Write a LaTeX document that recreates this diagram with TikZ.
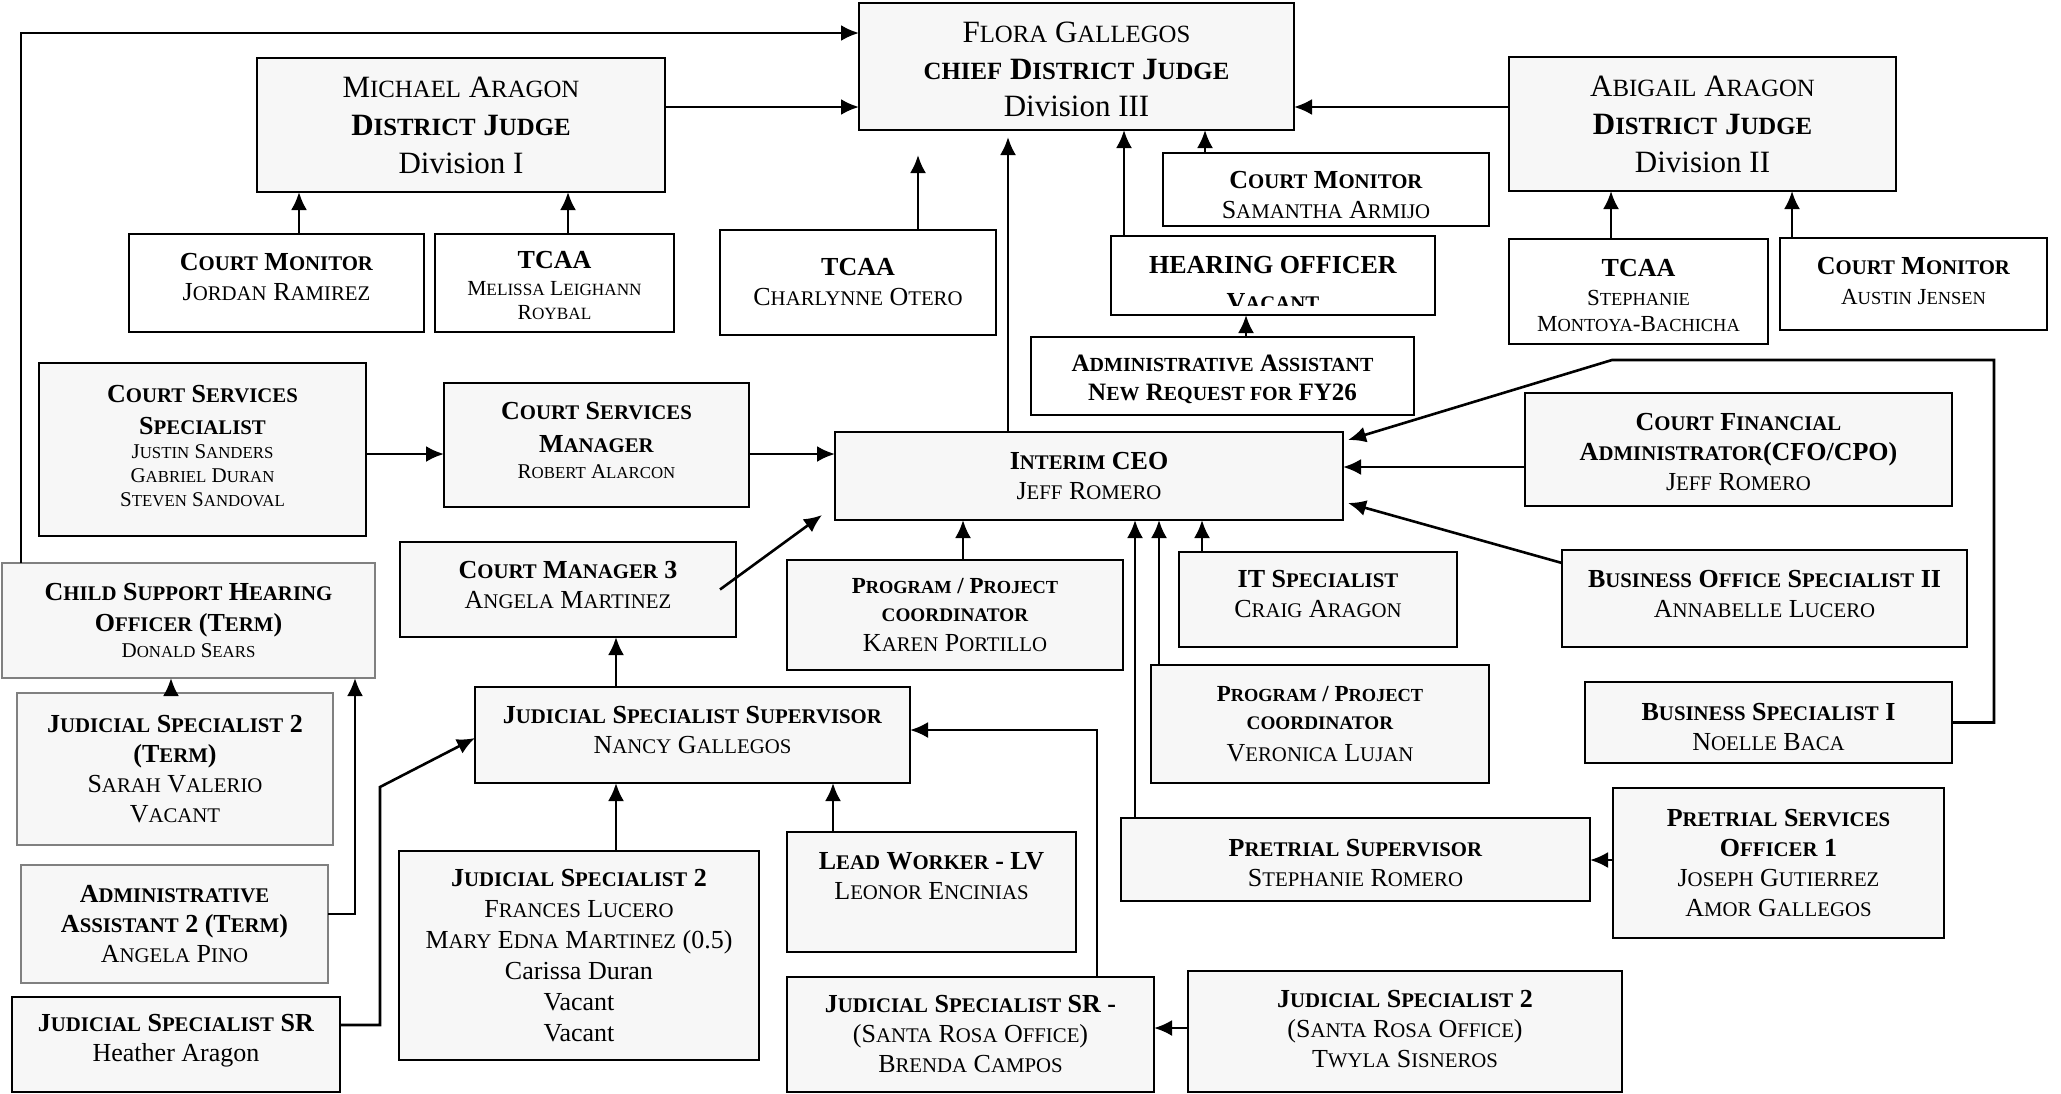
\documentclass[tikz,border=0pt]{standalone}
\usepackage{fontspec}
\setmainfont{Liberation Serif}
\newfontfamily\scfont[Scale=0.8]{Liberation Serif}
\usetikzlibrary{arrows.meta}
\newcommand\SC[1]{{\scfont #1}}
\newcommand\fs[2]{\fontsize{#1}{#2}\selectfont}
\newcommand\bx[9]{%
 \node[#2, minimum width=#5pt, minimum height=#6pt] (#1) at (#3,#4) {};
 \node[txt,#8] (#1t) at (#3,{#4+(#7)}) {#9};}
\tikzset{
 box/.style={draw, line width=2.6pt, fill=black!3, inner sep=0pt, outer sep=0pt},
 wbox/.style={box, fill=white},
 gbox/.style={box, draw=black!50, line width=2pt},
 txt/.style={align=center, inner sep=0pt, font=\fs{26}{30}},
 arr/.style={line width=2.6pt, -{Latex[length=18pt,width=16pt]}},
}
\begin{document}
\begin{tikzpicture}[x=1pt,y=-1pt]
\useasboundingbox (0,0) rectangle (2061,1093);
\fill[white] (0,0) rectangle (2061,1093);

\bx{flora}{box}{1076.5}{66.5}{435}{127}{3}{font=\fs{31}{37}}{F\SC{LORA} G\SC{ALLEGOS}\\ \textbf{\SC{CHIEF} D\SC{ISTRICT} J\SC{UDGE}}\\ Division III}
\bx{michael}{box}{461}{125}{408}{134}{0}{font=\fs{31}{38}}{M\SC{ICHAEL} A\SC{RAGON}\\ \textbf{D\SC{ISTRICT} J\SC{UDGE}}\\ Division I}
\bx{abigail}{box}{1702.5}{124}{387}{134}{0}{font=\fs{31}{38}}{A\SC{BIGAIL} A\SC{RAGON}\\ \textbf{D\SC{ISTRICT} J\SC{UDGE}}\\ Division II}
\bx{jordan}{wbox}{276.5}{283}{295}{98}{-6}{}{\textbf{C\SC{OURT} M\SC{ONITOR}}\\ J\SC{ORDAN} R\SC{AMIREZ}}
\bx{melissa}{wbox}{554.5}{283}{239}{98}{2}{}{\textbf{TCAA}\\[-3pt] {\fs{21.5}{24}M\SC{ELISSA} L\SC{EIGHANN}}\\[-6pt] {\fs{21.5}{24}R\SC{OYBAL}}}
\bx{charlynne}{wbox}{858}{282.5}{276}{105}{0}{}{\textbf{TCAA}\\ C\SC{HARLYNNE} O\SC{TERO}}
\bx{samantha}{wbox}{1326}{189.5}{326}{73}{6}{}{\textbf{C\SC{OURT} M\SC{ONITOR}}\\ S\SC{AMANTHA} A\SC{RMIJO}}
\node[wbox, minimum width=324pt, minimum height=79pt] (hearing) at (1273,275.5) {};
\node[txt] (hearingt) at (1273,265.5) {\textbf{HEARING OFFICER}};
\begin{scope}
\clip (1111,236) rectangle (1435,305);
\node[anchor=base, inner sep=0pt, font=\fs{26}{30}] (hearingv) at (1273,310) {\textbf{V\SC{ACANT}}};
\end{scope}
\bx{adminasst}{wbox}{1222.5}{376}{383}{78}{3}{font=\fs{25}{29}}{\textbf{A\SC{DMINISTRATIVE} A\SC{SSISTANT}}\\ \textbf{N\SC{EW} R\SC{EQUEST FOR} FY26}}
\bx{stephanie}{wbox}{1638.5}{291.5}{259}{105}{4}{}{\textbf{TCAA}\\[-1pt] {\fs{23}{26}S\SC{TEPHANIE}}\\[-4pt] {\fs{23}{26}M\SC{ONTOYA}-B\SC{ACHICHA}}}
\bx{austin}{wbox}{1913.5}{284}{267}{92}{-3}{}{\textbf{C\SC{OURT} M\SC{ONITOR}}\\ {\fs{23}{26}A\SC{USTIN} J\SC{ENSEN}}}
\bx{css}{box}{202.5}{449.5}{327}{173}{-3}{}{\textbf{C\SC{OURT} S\SC{ERVICES}}\\[2pt] \textbf{S\SC{PECIALIST}}\\[-6pt] {\fs{21}{24}J\SC{USTIN} S\SC{ANDERS}}\\[-6pt] {\fs{21}{24}G\SC{ABRIEL} D\SC{URAN}}\\[-6pt] {\fs{21}{24}S\SC{TEVEN} S\SC{ANDOVAL}}}
\bx{csm}{box}{596.5}{445}{305}{124}{-5}{}{\textbf{C\SC{OURT} S\SC{ERVICES}}\\[3pt] \textbf{M\SC{ANAGER}}\\[-4pt] {\fs{21}{24}R\SC{OBERT} A\SC{LARCON}}}
\bx{ceo}{box}{1089}{476}{508}{88}{0}{}{\textbf{I\SC{NTERIM} CEO}\\ J\SC{EFF} R\SC{OMERO}}
\bx{cfo}{box}{1738.5}{449.5}{427}{113}{3}{}{\textbf{C\SC{OURT} F\SC{INANCIAL}}\\ \textbf{A\SC{DMINISTRATOR}(CFO/CPO)}\\ J\SC{EFF} R\SC{OMERO}}
\bx{cm3}{box}{568}{589.5}{336}{95}{-5}{}{\textbf{C\SC{OURT} M\SC{ANAGER} 3}\\ A\SC{NGELA} M\SC{ARTINEZ}}
\bx{karen}{box}{955}{615}{336}{110}{0}{}{{\fs{23}{26}\textbf{P\SC{ROGRAM} / P\SC{ROJECT}}}\\[-2pt] {\fs{24}{27}\textbf{\SC{COORDINATOR}}}\\ K\SC{AREN} P\SC{ORTILLO}}
\bx{it}{box}{1318}{599.5}{278}{95}{-5}{}{\textbf{IT S\SC{PECIALIST}}\\ C\SC{RAIG} A\SC{RAGON}}
\bx{bos2}{box}{1764.5}{598.5}{405}{97}{-5}{}{\textbf{B\SC{USINESS} O\SC{FFICE} S\SC{PECIALIST} II}\\ A\SC{NNABELLE} L\SC{UCERO}}
\bx{child}{gbox}{188.5}{620.5}{373}{115}{0}{}{\textbf{C\SC{HILD} S\SC{UPPORT} H\SC{EARING}}\\[1pt] \textbf{O\SC{FFICER} (T\SC{ERM})}\\[-4pt] {\fs{21}{24}D\SC{ONALD} S\SC{EARS}}}
\bx{veronica}{box}{1320}{724}{338}{118}{0}{}{{\fs{23}{26}\textbf{P\SC{ROGRAM} / P\SC{ROJECT}}}\\[-2pt] {\fs{24}{27}\textbf{\SC{COORDINATOR}}}\\[2pt] V\SC{ERONICA} L\SC{UJAN}}
\bx{bs1}{box}{1768.5}{722.5}{367}{81}{4}{}{\textbf{B\SC{USINESS} S\SC{PECIALIST} I}\\ N\SC{OELLE} B\SC{ACA}}
\bx{js2term}{gbox}{175}{769}{316}{152}{0}{}{\textbf{J\SC{UDICIAL} S\SC{PECIALIST} 2}\\ \textbf{(T\SC{ERM})}\\ S\SC{ARAH} V\SC{ALERIO}\\ V\SC{ACANT}}
\bx{jss}{box}{692.5}{735}{435}{96}{-5}{}{\textbf{J\SC{UDICIAL} S\SC{PECIALIST} S\SC{UPERVISOR}}\\ N\SC{ANCY} G\SC{ALLEGOS}}
\bx{pretsup}{box}{1355.5}{859.5}{469}{83}{4}{}{\textbf{P\SC{RETRIAL} S\SC{UPERVISOR}}\\ S\SC{TEPHANIE} R\SC{OMERO}}
\bx{pso1}{box}{1778.5}{863}{331}{150}{0}{}{\textbf{P\SC{RETRIAL} S\SC{ERVICES}}\\ \textbf{O\SC{FFICER} 1}\\ J\SC{OSEPH} G\SC{UTIERREZ}\\ A\SC{MOR} G\SC{ALLEGOS}}
\bx{admin2}{gbox}{174.5}{924}{307}{118}{0}{}{\textbf{A\SC{DMINISTRATIVE}}\\ \textbf{A\SC{SSISTANT} 2 (T\SC{ERM})}\\ A\SC{NGELA} P\SC{INO}}
\bx{js2fr}{box}{579}{955.5}{360}{209}{0}{font=\fs{26}{31}}{\textbf{J\SC{UDICIAL} S\SC{PECIALIST} 2}\\ F\SC{RANCES} L\SC{UCERO}\\ M\SC{ARY} E\SC{DNA} M\SC{ARTINEZ} (0.5)\\ Carissa Duran\\ Vacant\\ Vacant}
\bx{lead}{box}{931.5}{892}{289}{120}{-16}{}{\textbf{L\SC{EAD} W\SC{ORKER} - LV}\\ L\SC{EONOR} E\SC{NCINIAS}}
\bx{heather}{box}{176}{1044.5}{328}{95}{-4}{}{\textbf{J\SC{UDICIAL} S\SC{PECIALIST} SR}\\ Heather Aragon}
\bx{jssr}{box}{970.5}{1034.5}{367}{115}{0}{}{\textbf{J\SC{UDICIAL} S\SC{PECIALIST} SR -}\\ (S\SC{ANTA} R\SC{OSA} O\SC{FFICE})\\ B\SC{RENDA} C\SC{AMPOS}}
\bx{js2sr}{box}{1405}{1031.5}{434}{121}{-2}{}{\textbf{J\SC{UDICIAL} S\SC{PECIALIST} 2}\\ (S\SC{ANTA} R\SC{OSA} O\SC{FFICE})\\ T\SC{WYLA} S\SC{ISNEROS}}

% connectors
\coordinate (a1) at ([xshift=19pt]child.north west);
\coordinate (a2) at ([yshift=33.5pt]flora.west);
\draw[arr] (a1) |- (a2);
\coordinate (b1) at ([yshift=18pt]michael.east);
\draw[arr] (b1) -- (b1 -| flora.west);
\coordinate (c1) at ([yshift=17pt]abigail.west);
\draw[arr] (c1) -- (c1 -| flora.east);
\coordinate (d1) at ([xshift=22.5pt]jordan.north);
\draw[arr] (d1) -- (d1 |- michael.south);
\coordinate (e1) at ([xshift=13.5pt]melissa.north);
\draw[arr] (e1) -- (e1 |- michael.south);
\coordinate (f1) at ([xshift=60pt]charlynne.north);
\draw[arr, shorten >=25pt] (f1) -- (f1 |- flora.south);
\coordinate (g1) at ([xshift=-81pt]ceo.north);
\draw[arr, shorten >=7pt] (g1) -- (g1 |- flora.south);
\coordinate (h1) at ([xshift=-149pt]hearing.north);
\draw[arr] (h1) -- (h1 |- flora.south);
\coordinate (i1) at ([xshift=-121pt]samantha.north);
\draw[arr] (i1) -- (i1 |- flora.south);
\coordinate (j1) at ([xshift=23.5pt]adminasst.north);
\draw[arr] (j1) -- (j1 |- hearing.south);
\coordinate (k1) at ([xshift=-27.5pt]stephanie.north);
\draw[arr] (k1) -- (k1 |- abigail.south);
\coordinate (l1) at ([xshift=-121.5pt]austin.north);
\draw[arr] (l1) -- (l1 |- abigail.south);
\coordinate (m1) at ([yshift=-4.5pt]css.east);
\draw[arr] (m1) -- (m1 -| csm.west);
\coordinate (n1) at ([yshift=-9pt]csm.east);
\draw[arr] (n1) -- (n1 -| ceo.west);
\coordinate (o1) at ([xshift=-16pt]cm3.east);
\coordinate (o2) at ([xshift=-13pt,yshift=5pt]ceo.south west);
\draw[arr] (o1) -- (o2);
\coordinate (p1) at ([xshift=8pt]karen.north);
\draw[arr] (p1) -- (p1 |- ceo.south);
\coordinate (q1) at ([xshift=-220.5pt]pretsup.north);
\draw[arr] (q1) -- (q1 |- ceo.south);
\coordinate (r1) at ([xshift=-161pt]veronica.north);
\draw[arr] (r1) -- (r1 |- ceo.south);
\coordinate (s1) at ([xshift=-116pt]it.north);
\draw[arr] (s1) -- (s1 |- ceo.south);
\coordinate (t1) at ([xshift=42pt]bs1.east);
\coordinate (t0) at ([yshift=33pt]cfo.north);
\coordinate (t3) at ([xshift=-126.5pt]t0);
\coordinate (t4) at ([xshift=5pt,yshift=36pt]ceo.east);
\draw[arr] (bs1.east) -- (t1) |- (t3) -- (t4);
\coordinate (u1) at ([yshift=-17.5pt]cfo.west);
\draw[arr] (u1) -- (u1 -| ceo.east);
\coordinate (v1) at ([yshift=35.5pt]bos2.west);
\coordinate (v2) at ([xshift=5pt,yshift=-27pt]ceo.east);
\draw[arr] (v1) -- (v2);
\coordinate (w1) at ([xshift=-4pt]js2term.north);
\draw[arr] (w1) -- (w1 |- child.south);
\coordinate (x1) at ([yshift=10pt]admin2.east);
\coordinate (x2) at ([xshift=166.5pt]child.south);
\draw[arr] (x1) -| (x2);
\coordinate (y1) at ([yshift=19.5pt]heather.east);
\coordinate (y2) at ([xshift=40pt]y1);
\coordinate (y3a) at (y2 |- jss.south);
\coordinate (y3) at ([yshift=-4pt]y3a);
\coordinate (y4) at ([yshift=-3pt]jss.west);
\draw[arr] (y1) -- (y2) -- (y3) -- (y4);
\coordinate (z1) at ([xshift=-76.5pt]jss.north);
\draw[arr] (z1) -- (z1 |- cm3.south);
\coordinate (aa1) at ([xshift=37pt]js2fr.north);
\draw[arr] (aa1) -- (aa1 |- jss.south);
\coordinate (bb1) at ([xshift=-98.5pt]lead.north);
\draw[arr] (bb1) -- (bb1 |- jss.south);
\coordinate (cc1) at ([xshift=126.5pt]jssr.north);
\coordinate (cc2) at ([yshift=5pt]jss.east);
\draw[arr] (cc1) |- (cc2);
\coordinate (dd1) at ([yshift=3.5pt]js2sr.west);
\draw[arr] (dd1) -- (dd1 -| jssr.east);
\coordinate (ee1) at ([yshift=3pt]pso1.west);
\draw[arr] (ee1) -- (ee1 -| pretsup.east);
\end{tikzpicture}
\end{document}
